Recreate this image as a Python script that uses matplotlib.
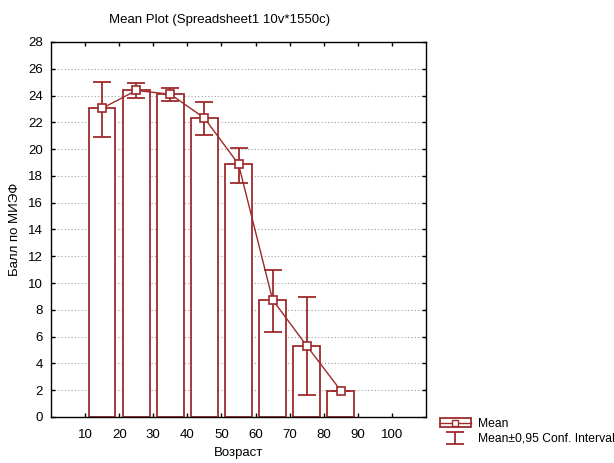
import matplotlib
matplotlib.use("Agg")
import matplotlib.pyplot as plt
from matplotlib.patches import Rectangle
from matplotlib.lines import Line2D

# Data
age_centers = [15, 25, 35, 45, 55, 65, 75, 85]
means = [23.05, 24.38, 24.10, 22.32, 18.88, 8.75, 5.32, 1.97]
ci_low = [20.92, 23.80, 23.56, 21.02, 17.49, 6.37, 1.64, 1.97]
ci_high = [25.02, 24.95, 24.57, 23.53, 20.07, 10.97, 8.96, 1.97]
x_ticks = [10, 20, 30, 40, 50, 60, 70, 80, 90, 100]
y_ticks = list(range(0, 29, 2))

red = "#9e2a2b"

plt.rcParams['font.family'] = ['Liberation Sans', 'DejaVu Sans']

fig = plt.figure(figsize=(6.14, 4.63), dpi=100)
ax = fig.add_axes([0.0831, 0.0994, 0.6107, 0.8099])

# bars
ax.bar(age_centers, means, width=7.8, facecolor="white", edgecolor=red,
       linewidth=1.3, zorder=2)

# error bars
yerr = [[m - lo for m, lo in zip(means, ci_low)],
        [hi - m for m, hi in zip(means, ci_high)]]
eb = ax.errorbar(age_centers, means, yerr=yerr, fmt='none', ecolor=red,
                 elinewidth=1.3, capsize=6.5, capthick=1.3, zorder=3)

# mean line with markers
ax.plot(age_centers, means, color=red, linewidth=1.0, marker='s',
        markersize=5.5, markerfacecolor="white", markeredgecolor=red,
        markeredgewidth=1.2, zorder=4)

ax.set_xlim(0, 110)
ax.set_ylim(0, 28)
ax.set_xticks(x_ticks)
ax.set_yticks(y_ticks)
ax.tick_params(direction='in', top=True, right=True, length=3, width=1,
               labelsize=9.5, colors='black', pad=6)
ax.tick_params(axis='x', pad=9)
ax.yaxis.grid(True, linestyle=(0, (1, 2)), color='#a0a0a0', linewidth=0.8)
ax.set_axisbelow(True)
for s in ax.spines.values():
    s.set_linewidth(1.0)
    s.set_color('black')

ax.set_title("Mean Plot (Spreadsheet1 10v*1550c)", fontsize=9.5, x=0.45, pad=14)
ax.set_xlabel("Возраст", fontsize=9.5, labelpad=4)
ax.set_ylabel("Балл по МИЭФ", fontsize=9.5, labelpad=5)

# legend
mean_handle = (Rectangle((0, 0), 1, 1, facecolor='white', edgecolor=red, linewidth=1.3),
               Line2D([], [], color=red, linewidth=1.0, marker='s', markersize=5,
                      markerfacecolor='white', markeredgecolor=red))
fig.legend([mean_handle, eb], ["Mean", "Mean±0,95 Conf. Interval"],
           loc='upper left', bbox_to_anchor=(0.708, 0.108), frameon=False,
           fontsize=8.7, handlelength=2.6, handletextpad=0.6, labelspacing=0.25,
           borderaxespad=0)

fig.savefig("out.png", dpi=100)
